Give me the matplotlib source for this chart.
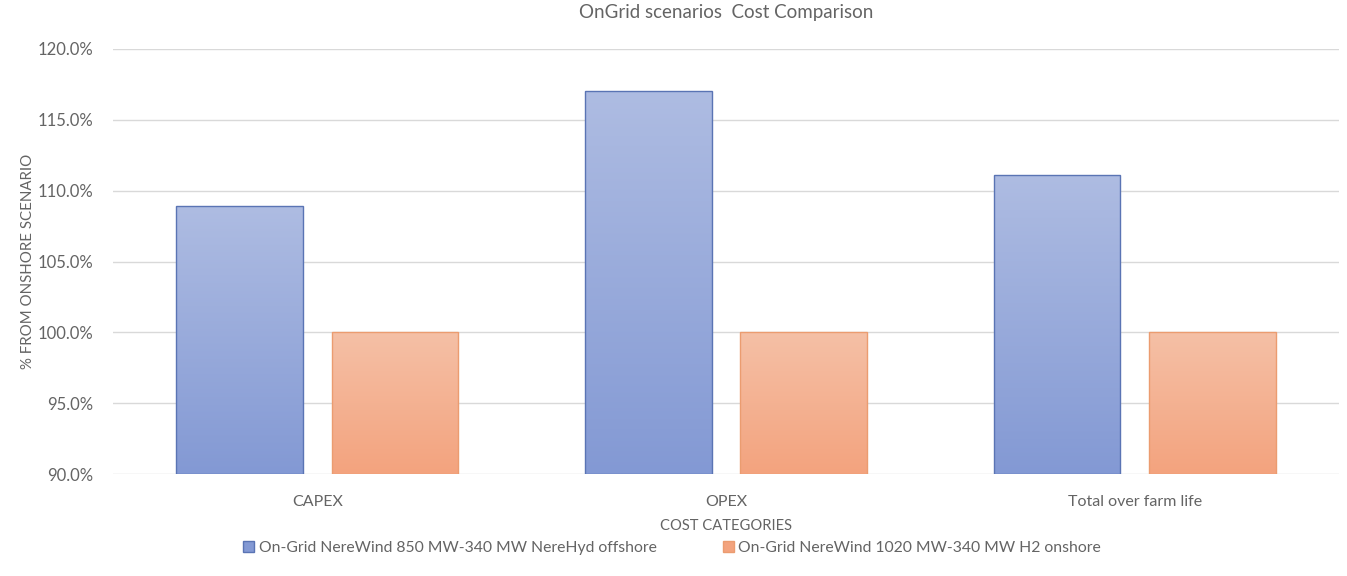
import matplotlib.pyplot as plt
import matplotlib.colors as mcolors
from matplotlib.patches import Patch
import numpy as np

plt.rcParams['font.family'] = ['Lato', 'DejaVu Sans']

# donnees
categories = ["CAPEX", "OPEX", "Total over farm life"]
offshore = [108.9, 117.0, 111.1]
onshore = [100.0, 100.0, 100.0]
series_names = ["On-Grid NereWind 850 MW-340 MW NereHyd offshore",
                "On-Grid NereWind 1020 MW-340 MW H2 onshore"]

grey = "#646464"
blue_top, blue_bot, blue_edge = "#aebce2", "#8399d4", "#5a74b4"
orange_top, orange_bot, orange_edge = "#f5c0a6", "#f3a37e", "#eb9c70"

fig = plt.figure(figsize=(13.47, 5.76), dpi=100)
ax = fig.add_axes([0.0839, 0.177, 0.9101, 0.738])

x = np.arange(len(categories))
width = 0.31
offset = 0.19


def gradient_bars(xpos, values, top, bot, edge):
    bars = ax.bar(xpos, np.array(values) - 90, width, bottom=90,
                  color="none", edgecolor=edge, linewidth=1.0, zorder=3)
    cmap = mcolors.LinearSegmentedColormap.from_list("g", [bot, top])
    grad = np.linspace(0, 1, 256).reshape(-1, 1)
    for b in bars:
        x0, y0 = b.get_x(), b.get_y()
        im = ax.imshow(grad, cmap=cmap, origin="lower", aspect="auto",
                       extent=[x0, x0 + b.get_width(), y0, y0 + b.get_height()],
                       zorder=2)
        im.set_clip_path(b)
    return bars


gradient_bars(x - offset, offshore, blue_top, blue_bot, blue_edge)
gradient_bars(x + offset, onshore, orange_top, orange_bot, orange_edge)

ax.set_xlim(-0.5, len(categories) - 0.5)
ax.set_ylim(90, 120)
ax.set_yticks(np.arange(90, 121, 5))
ax.set_yticklabels([f"{v:.1f}%" for v in np.arange(90, 121, 5)])
ax.set_xticks(x)
ax.set_xticklabels(categories)
ax.grid(axis="y", color="#d9d9d9", linewidth=1.0, zorder=0)
ax.set_axisbelow(True)
for s in ax.spines.values():
    s.set_visible(False)
ax.tick_params(length=0, colors=grey)
ax.tick_params(axis="x", pad=15, labelsize=11.5)
ax.tick_params(axis="y", pad=14, labelsize=12)

ax.set_title("OnGrid scenarios  Cost Comparison", color=grey, fontsize=13.5, pad=22)
ax.set_xlabel("COST CATEGORIES", color=grey, fontsize=10.6, labelpad=7)
ax.set_ylabel("% FROM ONSHORE SCENARIO", color=grey, fontsize=10.8, labelpad=2)

handles = [Patch(facecolor=blue_bot, edgecolor=blue_edge),
           Patch(facecolor=orange_bot, edgecolor=orange_edge)]
fig.legend(handles, series_names, loc="lower center", ncol=2, frameon=False,
           bbox_to_anchor=(0.499, 0.012), fontsize=11.3, labelcolor=grey,
           handlelength=0.7, handleheight=0.7, handletextpad=0.3,
           columnspacing=4.2)

fig.savefig("out.png", dpi=100)
